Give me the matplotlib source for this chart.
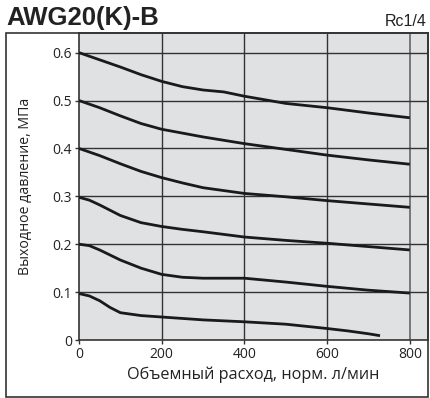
import matplotlib.pyplot as plt
from matplotlib.patches import Rectangle

# Flow (l/min) vs. outlet pressure (MPa)
flow_06 = [0, 50, 100, 150, 200, 250, 300, 350, 400, 500, 600, 700, 800]
p_06 = [0.600, 0.585, 0.570, 0.554, 0.540, 0.529, 0.522, 0.518, 0.509, 0.494, 0.485, 0.474, 0.464]

flow_05 = [0, 50, 100, 150, 200, 300, 400, 500, 600, 700, 800]
p_05 = [0.500, 0.485, 0.468, 0.452, 0.440, 0.424, 0.410, 0.398, 0.386, 0.376, 0.367]

flow_04 = [0, 50, 100, 150, 200, 250, 300, 400, 500, 600, 700, 800]
p_04 = [0.400, 0.385, 0.368, 0.352, 0.339, 0.328, 0.318, 0.306, 0.299, 0.291, 0.284, 0.277]

flow_03 = [0, 25, 50, 100, 150, 200, 250, 300, 400, 500, 600, 700, 800]
p_03 = [0.298, 0.292, 0.282, 0.260, 0.245, 0.237, 0.231, 0.226, 0.215, 0.208, 0.202, 0.195, 0.188]

flow_02 = [0, 25, 50, 100, 150, 200, 250, 300, 400, 500, 600, 700, 800]
p_02 = [0.200, 0.197, 0.188, 0.167, 0.150, 0.137, 0.131, 0.129, 0.129, 0.121, 0.112, 0.104, 0.098]

flow_01 = [0, 25, 50, 75, 100, 150, 200, 300, 400, 500, 600, 650, 700, 728]
p_01 = [0.097, 0.092, 0.082, 0.068, 0.057, 0.051, 0.048, 0.042, 0.038, 0.033, 0.024, 0.019, 0.013, 0.009]

curves = [(flow_06, p_06), (flow_05, p_05), (flow_04, p_04),
          (flow_03, p_03), (flow_02, p_02), (flow_01, p_01)]

x_ticks = [0, 200, 400, 600, 800]
y_ticks = [0, 0.1, 0.2, 0.3, 0.4, 0.5, 0.6]
y_labels = ['0', '0.1', '0.2', '0.3', '0.4', '0.5', '0.6']

fig = plt.figure(figsize=(4.3, 3.98), dpi=100)
ax = fig.add_axes([79 / 430, 1 - 340 / 398, (428 - 79) / 430, (340 - 33) / 398])
ax.set_facecolor('#e0e1e3')

# outer frame around the whole chart
fig.patches.append(Rectangle((6 / 430, 1 - 397 / 398), 422 / 430, 364 / 398,
                             transform=fig.transFigure, fill=False,
                             edgecolor='#333333', linewidth=1.2, zorder=0))

for xv in [200, 400, 600]:
    ax.axvline(xv, color='#333333', linewidth=1.0, zorder=1)
ax.axvline(800, color='#777777', linewidth=1.4, zorder=1)
for yv in y_ticks[1:]:
    ax.axhline(yv, color='#333333', linewidth=1.0, zorder=1)

for fx, py in curves:
    ax.plot(fx, py, color='#1a1a1a', linewidth=2.0, solid_capstyle='butt', zorder=3)

ax.set_xlim(0, 844)
ax.set_ylim(0, 0.641)
ax.set_xticks(x_ticks)
ax.set_yticks(y_ticks)
ax.set_yticklabels(y_labels)
ax.tick_params(axis='both', labelsize=10, length=3, width=1, color='#333333',
               labelcolor='#222222', pad=2)
for lab in ax.get_xticklabels() + ax.get_yticklabels():
    lab.set_family('Open Sans')

for s in ['left', 'bottom', 'top', 'right']:
    ax.spines[s].set_color('#333333')
    ax.spines[s].set_linewidth(1.2)

ax.set_xlabel('Объемный расход, норм. л/мин', fontsize=11.7, family='Open Sans',
              color='#222222', labelpad=3)
ax.set_ylabel('Выходное давление, МПа', fontsize=10.2, family='Open Sans',
              color='#222222', labelpad=14)

fig.text(6 / 430, 1 - 18.5 / 398, 'AWG20(K)-B', fontsize=18.5, fontweight='bold',
         family='Liberation Sans', va='center', ha='left', color='#222222')
fig.text(427 / 430, 1 - 21 / 398, 'Rc1/4', fontsize=11.5, family='Liberation Sans',
         va='center', ha='right', color='#222222')

fig.savefig('out.png', dpi=100)
